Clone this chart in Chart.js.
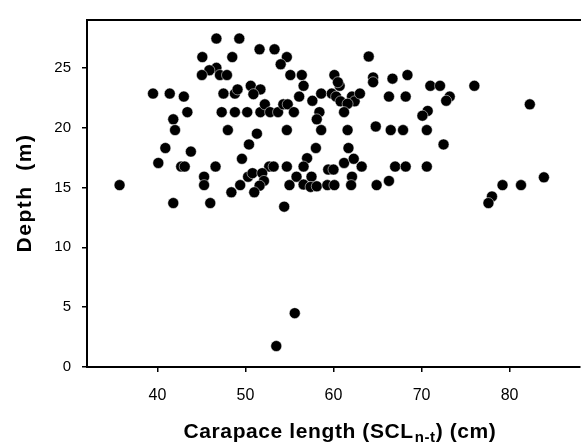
<!DOCTYPE html>
<html>
<head>
<meta charset="utf-8">
<title>Depth vs carapace length</title>
<script src="https://cdn.jsdelivr.net/npm/chart.js@4"></script>
<style>
  html, body { margin: 0; padding: 0; background: #fff; }
  canvas { display: block; }
</style>
</head>
<body>
<canvas id="scatterChart" width="586" height="445"></canvas>
<script>
// values
var carapaceLength = [
    46.7, 49.3, 51.6, 53.3, 54.7, 54.0, 45.1, 48.5, 46.7, 45.9,
    45.05, 47.1, 47.9, 55.1, 56.4, 56.6, 60.1, 39.5, 41.4, 43.0,
    43.4, 41.8, 42.0, 47.5, 48.8, 49.1, 50.6, 51.7, 50.9, 56.1,
    57.6, 58.6, 59.8, 47.3, 48.8, 50.2, 51.7, 52.2, 52.8, 53.7,
    54.3, 54.8, 55.5, 58.4, 58.1, 58.6, 48.0, 54.7, 51.3, 50.4,
    58.0, 40.9, 43.8, 40.1, 42.7, 43.1, 46.6, 49.6, 52.7, 53.2,
    54.7, 57.0, 56.6, 59.4, 60.0, 45.3, 45.3, 35.7, 48.4, 49.4,
    50.3, 50.8, 51.9, 52.1, 51.6, 51.0, 55.0, 55.8, 56.6, 57.5,
    57.4, 58.1, 59.3, 60.1, 41.8, 46.0, 54.4, 55.6, 53.5, 64.0,
    64.5, 64.5, 66.7, 68.4, 60.7, 60.5, 60.3, 60.8, 62.1, 62.4,
    61.6, 63.0, 61.2, 66.3, 68.2, 71.0, 72.1, 73.2, 72.8, 76.0,
    82.3, 70.7, 70.1, 61.6, 64.8, 66.5, 67.9, 70.6, 72.5, 61.7,
    61.2, 62.3, 63.2, 67.0, 68.2, 70.6, 62.1, 62.0, 64.9, 66.3,
    83.9, 79.2, 81.3, 78.0, 77.6
];
var depth = [
    27.45, 27.45, 26.55, 26.55, 25.9, 25.3, 25.9, 25.9, 25.0, 24.8,
    24.4, 24.4, 24.4, 24.4, 24.4, 23.5, 24.4, 22.85, 22.85, 22.6,
    21.3, 20.7, 19.8, 22.85, 22.85, 23.2, 23.5, 23.2, 22.8, 22.6,
    22.25, 22.85, 22.85, 21.3, 21.3, 21.3, 21.3, 21.95, 21.3, 21.3,
    21.95, 21.95, 21.3, 21.3, 20.7, 19.8, 19.8, 19.8, 19.5, 18.6,
    18.3, 18.3, 18.0, 17.05, 16.75, 16.75, 16.75, 17.4, 16.75, 16.75,
    16.75, 17.45, 16.75, 16.5, 16.5, 15.9, 15.2, 15.2, 14.6, 15.2,
    15.9, 16.2, 16.2, 15.55, 15.15, 14.6, 15.2, 15.9, 15.25, 15.9,
    15.05, 15.1, 15.2, 15.2, 13.7, 13.7, 13.4, 4.5, 1.75, 25.95,
    24.2, 23.8, 24.1, 24.4, 23.5, 23.8, 22.6, 22.2, 22.6, 22.2,
    22.0, 22.85, 21.3, 22.6, 22.6, 23.5, 23.5, 22.6, 22.25, 23.5,
    21.95, 21.4, 21.0, 19.8, 20.1, 19.8, 19.8, 19.8, 18.6, 18.3,
    17.05, 17.4, 16.75, 16.75, 16.75, 16.75, 15.9, 15.2, 15.2, 15.55,
    15.85, 15.2, 15.2, 14.25, 13.7
];
var xTickValues = [40, 50, 60, 70, 80];
var yTickValues = [0, 5, 10, 15, 20, 25];

var FONT = "'Liberation Sans', Arial, Helvetica, sans-serif";

var points = [];
for (var i = 0; i < carapaceLength.length; i++) {
    points.push({ x: carapaceLength[i], y: depth[i] });
}

// top frame line plus the two axis titles (x title has a subscript)
var framePlugin = {
    id: 'frameAndTitles',
    afterDraw: function (chart) {
        var ctx = chart.ctx;
        var area = chart.chartArea;
        ctx.save();
        ctx.strokeStyle = '#000';
        ctx.lineWidth = 2;
        ctx.beginPath();
        ctx.moveTo(area.left - 1, area.top);
        ctx.lineTo(area.right + 1, area.top);
        ctx.stroke();

        ctx.fillStyle = '#000';
        ctx.textBaseline = 'alphabetic';
        ctx.textAlign = 'left';

        // x title
        var big = 'bold 21px ' + FONT;
        var small = 'bold 15px ' + FONT;
        var part1 = 'Carapace length (SCL';
        var sub = 'n-t';
        var part2 = ') (cm)';
        ctx.letterSpacing = '0.6px';
        ctx.font = big;
        var w1 = ctx.measureText(part1).width;
        var w3 = ctx.measureText(part2).width;
        ctx.font = small;
        var w2 = ctx.measureText(sub).width;
        var total = w1 + w2 + w3 + 1;
        var x0 = 340 - total / 2;
        var base = 438;
        ctx.font = big;
        ctx.fillText(part1, x0, base);
        ctx.font = small;
        ctx.fillText(sub, x0 + w1 + 1, base + 4);
        ctx.font = big;
        ctx.fillText(part2, x0 + w1 + w2 + 1, base);

        // y title
        ctx.letterSpacing = '1.5px';
        ctx.translate(31, 193);
        ctx.rotate(-Math.PI / 2);
        ctx.textAlign = 'center';
        ctx.font = big;
        ctx.fillText('Depth  (m)', 0, 0);
        ctx.restore();
    }
};

var ctx = document.getElementById('scatterChart').getContext('2d');
var myChart = new Chart(ctx, {
    type: 'scatter',
    data: {
        datasets: [
            {
                label: 'Depth',
                data: points,
                pointRadius: 5.5,
                pointHoverRadius: 5.5,
                backgroundColor: '#000',
                borderColor: '#fff',
                borderWidth: 0.5
            }
        ]
    },
    options: {
        responsive: false,
        animation: false,
        events: [],
        layout: {
            padding: { top: 12, right: 0, left: 0, bottom: 0 }
        },
        plugins: {
            legend: { display: false },
            tooltip: { enabled: false }
        },
        scales: {
            x: {
                type: 'linear',
                min: 32,
                max: 88,
                afterBuildTicks: function (scale) {
                    scale.ticks = xTickValues.map(function (v) { return { value: v }; });
                },
                afterFit: function (scale) {
                    scale.height = 78;
                },
                grid: {
                    drawOnChartArea: false,
                    drawTicks: true,
                    tickLength: 5,
                    color: '#000',
                    lineWidth: 1.5
                },
                border: { display: true, color: '#000', width: 2 },
                ticks: {
                    color: '#000',
                    padding: 14,
                    maxRotation: 0,
                    font: { family: FONT, size: 16 }
                }
            },
            y: {
                type: 'linear',
                min: 0,
                max: 29,
                afterBuildTicks: function (scale) {
                    scale.ticks = yTickValues.map(function (v) { return { value: v }; });
                },
                afterFit: function (scale) {
                    scale.width = 87;
                },
                grid: {
                    drawOnChartArea: false,
                    drawTicks: true,
                    tickLength: 5,
                    color: '#000',
                    lineWidth: 1.5
                },
                border: { display: true, color: '#000', width: 2 },
                ticks: {
                    color: '#000',
                    padding: 11,
                    font: { family: FONT, size: 15 }
                }
            }
        }
    },
    plugins: [framePlugin]
});
</script>
</body>
</html>
